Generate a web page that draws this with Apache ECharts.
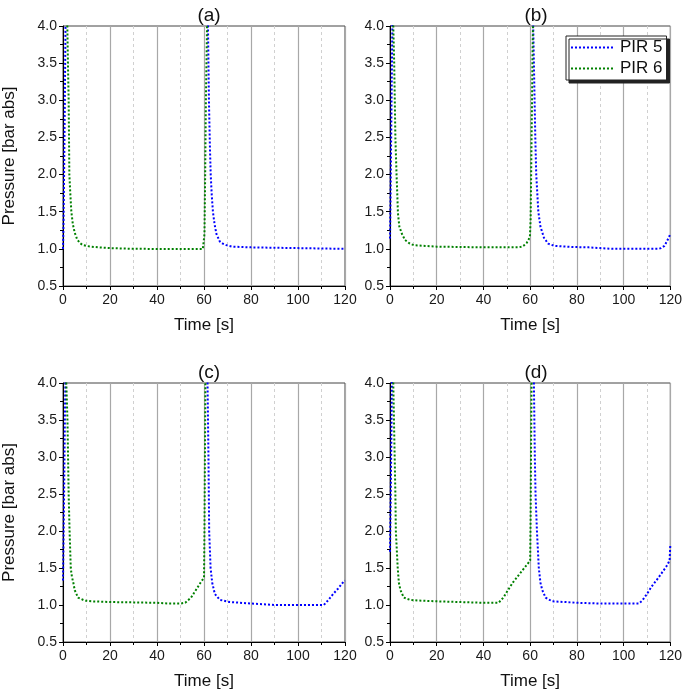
<!DOCTYPE html>
<html>
<head>
<meta charset="utf-8">
<script src="https://cdn.jsdelivr.net/npm/echarts@6/dist/echarts.min.js"></script>
<style>html,body{margin:0;padding:0;background:#fff;}#chart{width:685px;height:692px;}</style>
</head>
<body>
<div id="chart"></div>
<script>
// ---- Data (time in s, pressure in bar abs); null = gap ----
var panelTitles = ['(a)', '(b)', '(c)', '(d)'];
var seriesNames = ['PIR 5', 'PIR 6'];
var xTicks = [0, 20, 40, 60, 80, 100, 120];
var yTicks = [0.5, 1.0, 1.5, 2.0, 2.5, 3.0, 3.5, 4.0];

// Panel (a)
var tA5 = [0,0.25,0.5,0.75,1.0,1.2,30,61.5,61.7,62.1,62.5,62.85,63.3,63.8,64.5,65.3,66.7,68,69.5,72,76,80,90,100,110,120];
var pA5 = [1.0,1.4,2.1,2.9,3.8,4.6,null,4.6,4.0,3.0,2.4,2.0,1.72,1.5,1.33,1.2,1.1,1.07,1.05,1.03,1.025,1.02,1.015,1.01,1.005,1.0];
var tA6 = [1.5,1.84,2.1,2.41,2.7,3.1,3.55,4.2,4.97,6,7.1,8.5,9.9,12,15,20,25,30,35,40,50,59.5,60.0,60.2,60.5,60.8,61.1,61.3,61.5];
var pA6 = [4.6,4.0,3.5,3.0,2.0,1.75,1.5,1.33,1.22,1.13,1.08,1.05,1.04,1.03,1.02,1.01,1.005,1.0,1.0,0.997,0.997,0.997,1.0,1.2,2.0,3.0,3.6,4.0,4.6];

// Panel (b)
var tB5 = [0,0.2,0.4,0.6,0.8,1.0,1.2,30,61.1,61.3,61.6,62.2,62.6,63.5,64.4,65.9,67.7,70.5,78,85,90,95,100,110,115,116,117.5,118.5,119.3,120];
var pB5 = [1.14,1.6,2.2,2.8,3.4,4.0,4.6,null,4.6,4.0,3.5,2.5,2.0,1.5,1.3,1.15,1.07,1.04,1.025,1.02,1.01,1.0,1.0,1.0,1.0,1.01,1.04,1.1,1.15,1.2];
var tB6 = [1.1,1.4,1.8,2.3,2.8,3.1,3.4,4.0,5.0,6.4,8.5,10.2,15,20,30,40,50,55,56.5,57.5,58.5,59.3,59.9,60.2,60.5,60.8,61.0,61.2,61.4];
var pB6 = [4.6,4.0,3.5,2.5,2.0,1.75,1.48,1.3,1.21,1.12,1.07,1.05,1.04,1.03,1.025,1.02,1.02,1.02,1.03,1.05,1.08,1.12,1.17,1.4,2.2,3.0,3.6,4.0,4.6];

// Panel (c)
var tC5 = [0,0.2,0.4,0.6,0.8,1.0,1.2,30,61.3,61.5,61.9,62.2,62.8,63.5,64.6,66.7,71,80,85,90,100,105,111,113,115,117,119,120];
var pC5 = [1.33,1.8,2.3,2.9,3.5,4.0,4.6,null,4.6,4.0,3.0,2.0,1.5,1.3,1.15,1.07,1.04,1.02,1.01,1.0,1.0,1.0,1.0,1.07,1.15,1.22,1.3,1.33];
var tC6 = [1.1,1.4,1.9,2.4,2.8,3.3,3.8,4.4,5.0,6.4,9.2,12,20,30,40,45,50,52,54.5,56.5,58.5,60.0,60.2,60.4,60.6,60.8];
var pC6 = [4.6,4.0,3.5,2.5,2.0,1.5,1.38,1.3,1.2,1.1,1.06,1.05,1.04,1.035,1.03,1.02,1.02,1.03,1.1,1.2,1.3,1.37,2.0,3.0,4.0,4.6];

// Panel (d)
var tD5 = [0,0.2,0.4,0.6,0.8,1.0,30,61.4,61.6,62.0,62.3,62.9,63.7,64.4,65.2,66.6,69.4,75,80,90,100,106.5,108,110,112,114.7,116.5,118.3,119.7,120];
var pD5 = [1.72,2.2,2.7,3.3,3.9,4.6,null,4.6,4.0,3.0,2.5,2.0,1.5,1.3,1.2,1.1,1.05,1.04,1.03,1.02,1.02,1.02,1.06,1.15,1.25,1.36,1.44,1.52,1.6,1.82];
var tD6 = [1.1,1.4,1.7,2.0,2.3,2.5,3.3,3.8,4.5,5.9,8.5,12,20,30,35,40,46.5,48.5,50.5,52.5,55,57.5,60.0,60.2,60.4,60.6,60.8];
var pD6 = [4.6,4.0,3.5,3.0,2.5,2.0,1.5,1.3,1.2,1.1,1.07,1.06,1.05,1.04,1.035,1.03,1.03,1.1,1.2,1.3,1.4,1.5,1.6,2.2,3.2,4.0,4.6];

var panels = [[tA5,pA5,tA6,pA6],[tB5,pB5,tB6,pB6],[tC5,pC5,tC6,pC6],[tD5,pD5,tD6,pD6]];

function pairs(t, p) {
  return t.map(function (x, i) { return [x, p[i] === null ? '-' : p[i]]; });
}

var FONT = 'Liberation Sans, Arial, sans-serif';
var colors = ['#0000ff', '#008000'];
var grids = [
  {left: 63, top: 26, width: 282, height: 260},
  {left: 390, top: 26, width: 282, height: 260},
  {left: 63, top: 383, width: 282, height: 259},
  {left: 390, top: 383, width: 282, height: 259}
];

var option = {
  animation: false,
  backgroundColor: '#fff',
  title: [],
  grid: [],
  xAxis: [],
  yAxis: [],
  series: [],
  legend: {
    data: seriesNames,
    left: 566, top: 36,
    orient: 'vertical',
    backgroundColor: '#fff',
    borderColor: '#222', borderWidth: 1,
    shadowColor: '#222', shadowBlur: 0, shadowOffsetX: 3, shadowOffsetY: 3,
    padding: [3, 4, 3, 4],
    itemWidth: 42, itemHeight: 12, itemGap: 4,
    itemStyle: {opacity: 0},
    textStyle: {fontFamily: FONT, fontSize: 17, color: '#111', padding: [0, 0, 0, 2]}
  }
};

grids.forEach(function (g, i) {
  option.grid.push({left: g.left, top: g.top, width: g.width, height: g.height,
    show: true, borderColor: '#444', borderWidth: 1, containLabel: false});
  option.title.push({text: panelTitles[i], left: g.left + g.width / 2, top: g.top - 25,
    textAlign: 'center',
    textStyle: {fontFamily: FONT, fontSize: 19, fontWeight: 'normal', color: '#111'}});
  option.xAxis.push({
    gridIndex: i, type: 'value', min: 0, max: 120, interval: 20,
    name: 'Time [s]', nameLocation: 'middle', nameGap: 31,
    nameTextStyle: {fontFamily: FONT, fontSize: 17, color: '#111'},
    axisLine: {onZero: false, lineStyle: {color: '#000', width: 1}},
    axisTick: {show: true, length: 4, lineStyle: {color: '#000'}},
    minorTick: {show: true, splitNumber: 2, length: 3, lineStyle: {color: '#000'}},
    axisLabel: {fontFamily: FONT, fontSize: 14, color: '#1a1a1a', margin: 7},
    splitLine: {show: true, lineStyle: {color: '#a8a8a8', width: 1.2}},
    minorSplitLine: {show: true, lineStyle: {color: '#d0d0d0', width: 1, type: [3, 3]}}
  });
  option.yAxis.push({
    gridIndex: i, type: 'value', min: 0.5, max: 4, interval: 0.5,
    name: (i % 2 === 0) ? 'Pressure [bar abs]' : '', nameLocation: 'middle', nameGap: 45,
    nameTextStyle: {fontFamily: FONT, fontSize: 17, color: '#111'},
    axisLine: {onZero: false, lineStyle: {color: '#000', width: 1}},
    axisTick: {show: true, length: 4, lineStyle: {color: '#000'}},
    minorTick: {show: true, splitNumber: 2, length: 3, lineStyle: {color: '#000'}},
    axisLabel: {fontFamily: FONT, fontSize: 14, color: '#1a1a1a', margin: 6,
      formatter: function (v) { return v.toFixed(1); }},
    splitLine: {show: false}
  });
  var d = panels[i];
  [0, 1].forEach(function (k) {
    option.series.push({
      name: seriesNames[k], type: 'line',
      xAxisIndex: i, yAxisIndex: i,
      data: pairs(d[k * 2], d[k * 2 + 1]),
      showSymbol: false, symbol: 'none', smooth: false, clip: true,
      connectNulls: false,
      color: colors[k],
      lineStyle: {color: colors[k], width: 2, type: [2, 2]}
    });
  });
});

var chart = echarts.init(document.getElementById('chart'), null, {renderer: 'canvas'});
chart.setOption(option);
</script>
</body>
</html>
